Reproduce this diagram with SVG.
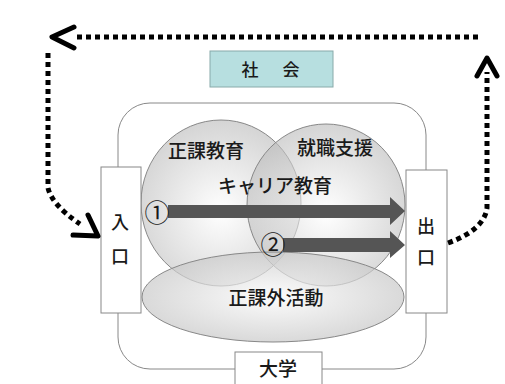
<svg xmlns="http://www.w3.org/2000/svg" width="505" height="384" viewBox="0 0 505 384">
<defs>
<radialGradient id="g1" cx="0.5" cy="0.55" r="0.55">
<stop offset="0" stop-color="#ffffff" stop-opacity="0.6"/>
<stop offset="1" stop-color="#b8b8b8" stop-opacity="0.6"/>
</radialGradient>
<radialGradient id="g2" cx="0.5" cy="0.5" r="0.55">
<stop offset="0" stop-color="#fafafa" stop-opacity="0.7"/>
<stop offset="1" stop-color="#c4c4c4" stop-opacity="0.7"/>
</radialGradient>
<style>
.t{font-family:"Noto Sans CJK JP","Noto Sans",sans-serif;font-size:19px;font-weight:500;fill:#1a1a1a;text-anchor:middle}
.box{fill:#fff;stroke:#888;stroke-width:1}
.dot{fill:none;stroke:#000;stroke-width:5;stroke-dasharray:5 4}
.head{fill:none;stroke:#000;stroke-width:5;stroke-linecap:round;stroke-linejoin:round}
.shape{stroke:#888;stroke-width:1}
.arr{fill:#555}
.num{font-size:25px;font-weight:400}
</style>
</defs>
<rect width="505" height="384" fill="#fff"/>
<g id="university">
<rect x="118" y="103" width="308" height="266" rx="32" ry="32" fill="#fff" stroke="#888" stroke-width="1"/>
</g>
<g id="seika-kyoiku">
<ellipse cx="221" cy="203" rx="80" ry="83" fill="url(#g1)" class="shape"/>
<text class="t" x="206" y="158">正課教育</text>
</g>
<g id="shushoku-shien">
<ellipse cx="326" cy="205" rx="79" ry="81" fill="url(#g1)" class="shape"/>
<text class="t" x="335" y="155">就職支援</text>
</g>
<g id="career">
<text class="t" x="275" y="193">キャリア教育</text>
</g>
<g id="kagai">
<ellipse cx="273" cy="297" rx="131" ry="45" fill="url(#g2)" class="shape"/>
<text class="t" x="276" y="305">正課外活動</text>
</g>
<g id="entrance">
<rect class="box" x="101" y="167" width="40" height="146"/>
<text class="t" x="120" y="229" style="font-size:18px">入</text>
<text class="t" x="120" y="263" style="font-size:18px">口</text>
</g>
<g id="exit">
<rect class="box" x="406" y="170" width="41" height="143"/>
<text class="t" x="426" y="233" style="font-size:18px">出</text>
<text class="t" x="426" y="264" style="font-size:18px">口</text>
</g>
<g id="shakai">
<rect x="210" y="51" width="123" height="36" fill="#b7dfe0" stroke="#8aa" stroke-width="1"/>
<text class="t" x="250" y="76" style="font-size:17px">社</text>
<text class="t" x="291" y="76" style="font-size:17px">会</text>
</g>
<g id="daigaku">
<rect class="box" x="235" y="352" width="87" height="40"/>
<text class="t" x="278" y="376">大学</text>
</g>
<g id="connectors">
<polygon class="arr" points="168,205 390,205 390,197 405,211 390,225 390,218 168,218"/>
<polygon class="arr" points="283,238 390,238 390,231 405,245 390,258 390,252 283,252"/>
<text class="t num" x="157" y="222">①</text>
<text class="t num" x="273" y="254">②</text>
<path class="dot" d="M478,37 H74"/>
<path class="head" d="M74,27 L52,37 L74,48"/>
<path class="dot" d="M48,53 V188 Q52,205 80,224"/>
<path class="head" d="M88,215 L98,236 L73,235"/>
<path class="dot" d="M448,243 Q484,230 487,208 V72"/>
<path class="head" d="M477,76 L487,58 L497,76"/>
</g>
</svg>
